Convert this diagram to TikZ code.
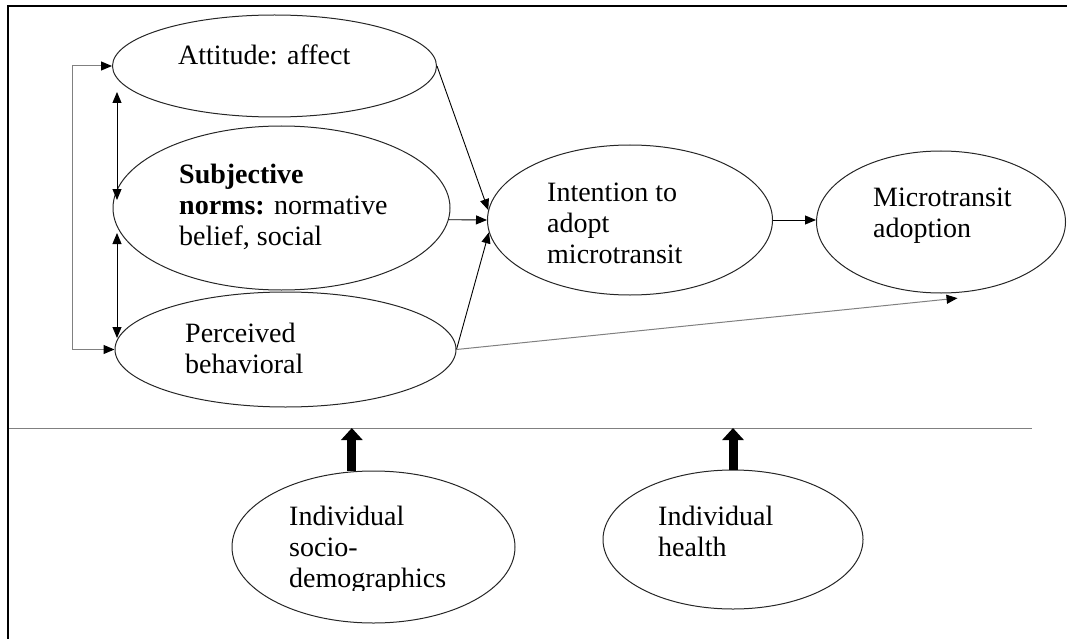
\documentclass[tikz,border=0pt]{standalone}
\usepackage{fontspec}
\setmainfont{Liberation Serif}
\usetikzlibrary{arrows.meta,shapes.geometric}

\begin{document}
\begin{tikzpicture}[x=1pt,y=-1pt]
\tikzset{oval/.style={draw=black!85, line width=1pt, ellipse, inner sep=0pt}}
\tikzset{txt/.style={anchor=base west, align=left, inner sep=0pt, font=\fontsize{28}{31}\selectfont}}
\tikzstyle{myarrow} = [line width=0.9pt, -{Triangle[length=11pt,width=9pt]}]
\tikzstyle{dblarrow} = [line width=0.9pt, {Triangle[length=11pt,width=9pt]}-{Triangle[length=11pt,width=9pt]}]
\tikzstyle{greyline} = [draw=black!50, line width=1pt]
\tikzstyle{bigarrow} = [line width=9pt, -{Triangle[length=12pt,width=21pt]}]

\useasboundingbox (0,0) rectangle (1067,639);

\node[oval, minimum width=324, minimum height=102] (att) at (274.5,66) {};
\node[oval, minimum width=337, minimum height=164] (sn) at (281.5,208) {};
\node[oval, minimum width=341, minimum height=115] (pbc) at (285.5,349.5) {};
\node[oval, minimum width=285, minimum height=150] (int) at (630,220) {};
\node[oval, minimum width=249, minimum height=142] (adopt) at (941,222) {};
\node[oval, minimum width=283, minimum height=152] (socio) at (373.5,547) {};
\node[oval, minimum width=260, minimum height=139] (health) at (733,539.5) {};

\node[txt] (att-t) at (178,65) {Attitude: affect};
\node[txt] (sn-t) at (179,245) {\textbf{Subjective}\\\textbf{norms:} normative\\belief, social};
\node[txt] (pbc-t) at (185,373) {Perceived\\behavioral};
\node[txt] (int-t) at (547,263) {Intention to\\adopt\\microtransit};
\node[txt] (adopt-t) at (873,237) {Microtransit\\adoption};
\node[txt] (health-t) at (658,556) {Individual\\health};
\begin{scope}
\clip (200,400) rectangle (540,590);
\node[txt] (socio-t) at (289,587) {Individual\\socio-\\demographics};
\end{scope}

\coordinate (d1) at (117,92);
\coordinate (d2) at (117,200);
\coordinate (d3) at (117,233);
\coordinate (d4) at (117,338);
\coordinate (s1) at (9,428);
\coordinate (s2) at (1032,428);

\draw [greyline, {Triangle[length=11pt,width=9pt,color=black]}-{Triangle[length=11pt,width=9pt,color=black]}] (att.west) -- ++(-40,0) |- (pbc.west);
\draw [dblarrow] (d1) -- (d2);
\draw [dblarrow] (d3) -- (d4);

\draw [myarrow] (att.east) -- (int.176);
\draw [myarrow] (sn.-4) -- (int.west);
\draw [myarrow] (pbc.east) -- (int.185);
\draw [myarrow] (int.east) -- (int.east -| adopt.west);
\draw [greyline, -{Triangle[length=11pt,width=9pt,color=black]}] (pbc.east) -- ([shift={(4,5)}]adopt.-80);

\draw [greyline] (s1) -- (s2);
\draw [bigarrow] (socio.106) -- (socio.106 |- s1);
\draw [bigarrow] (health.north) -- (health.north |- s1);

\draw [line width=2.5pt] (1067,6) -- (8,6) -- (8,639);
\end{tikzpicture}
\end{document}
